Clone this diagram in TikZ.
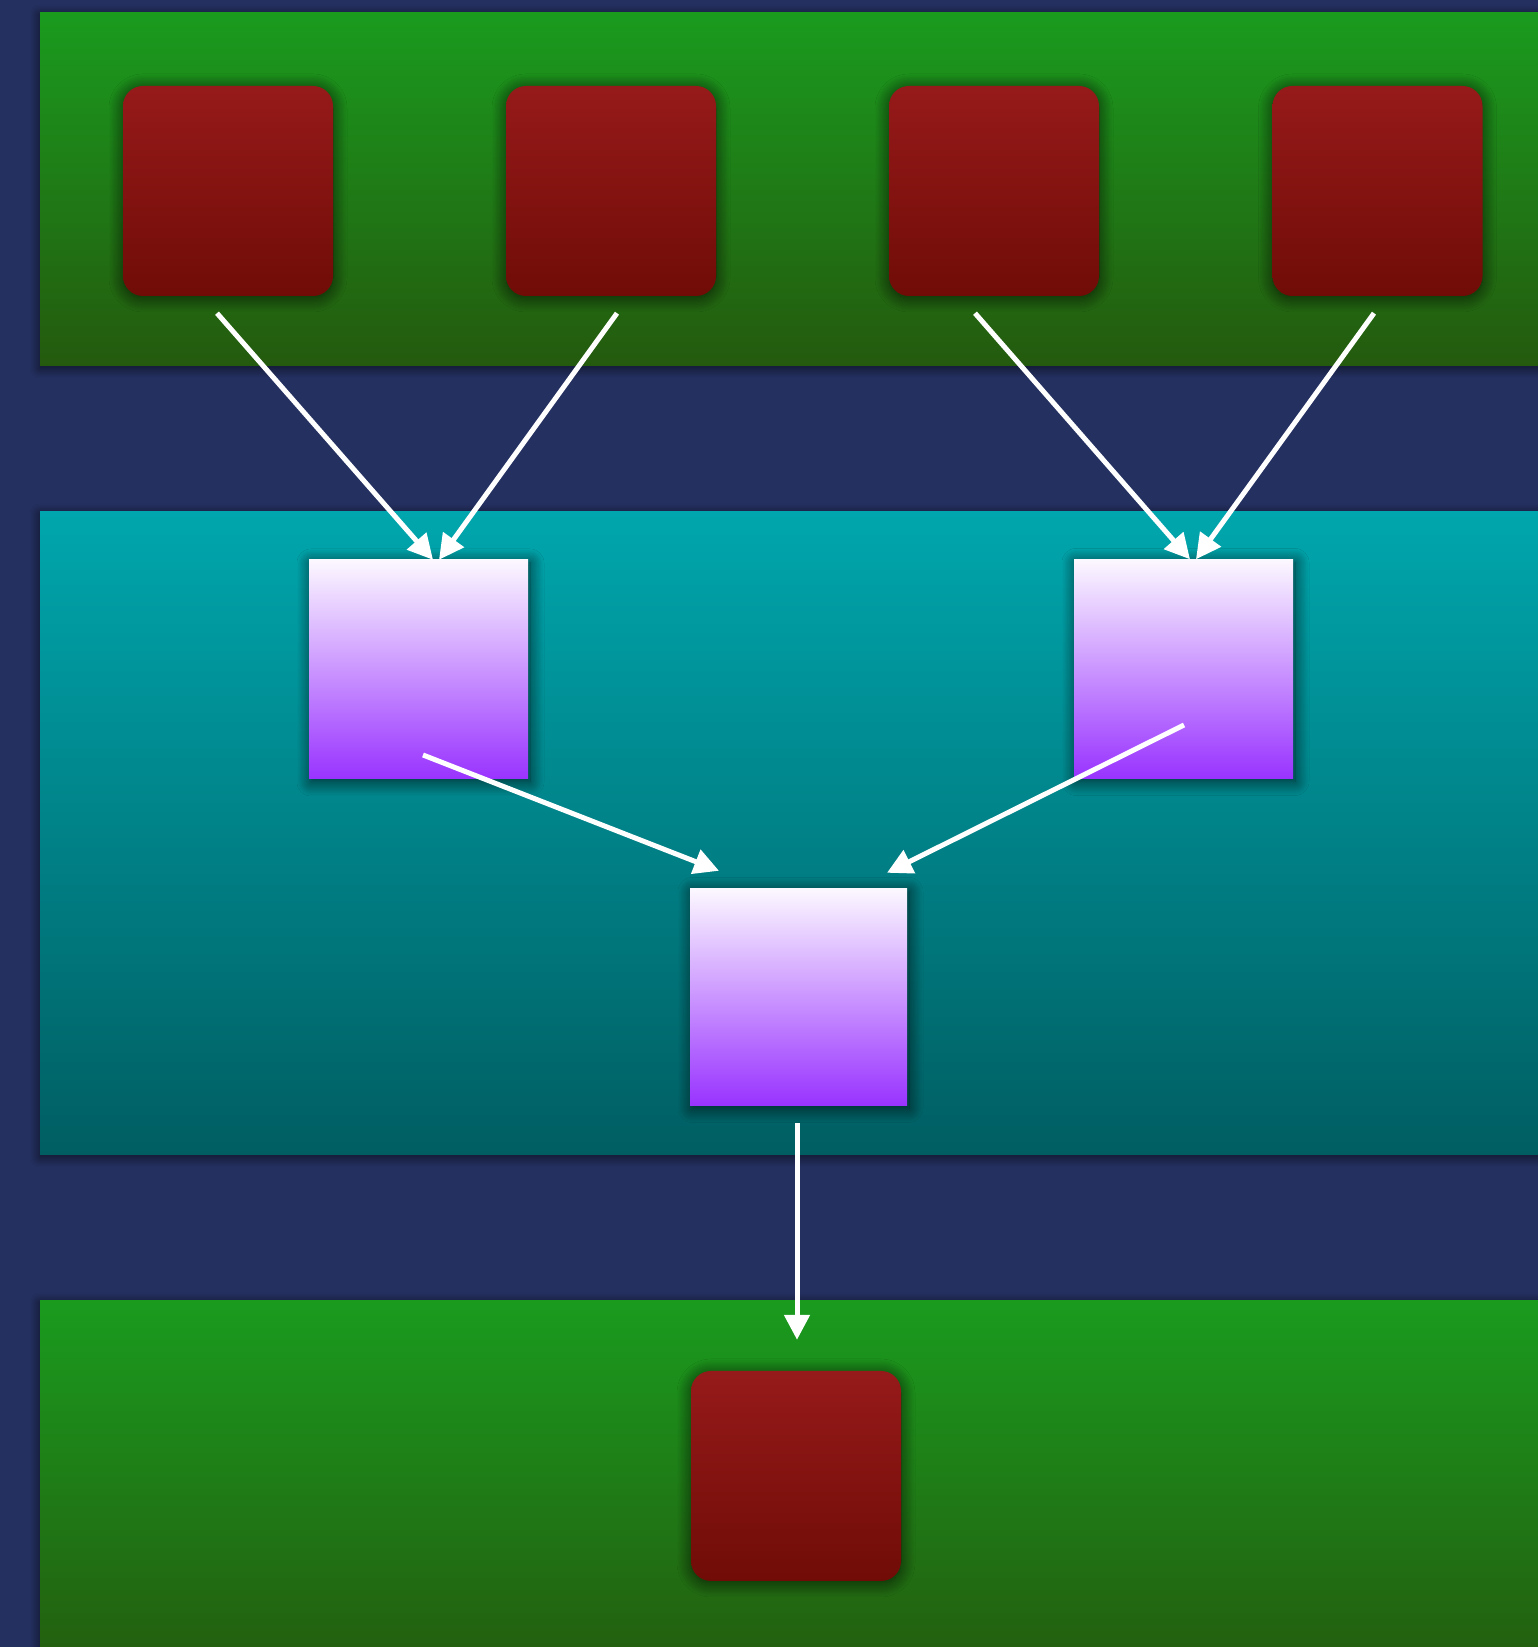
\documentclass[tikz,border=0pt]{standalone}
\usetikzlibrary{shadows.blur,arrows.meta,calc}
\definecolor{bgnavy}{RGB}{36,48,96}
\definecolor{gtop}{RGB}{26,155,30}
\definecolor{gbot}{RGB}{36,90,14}
\definecolor{ttop}{RGB}{0,166,173}
\definecolor{tbot}{RGB}{0,94,98}
\definecolor{rtop}{RGB}{150,26,26}
\definecolor{rbot}{RGB}{112,12,6}
\definecolor{ptop}{RGB}{252,248,255}
\definecolor{pbot}{RGB}{153,51,255}
\tikzset{
  bandshadow/.style={blur shadow={shadow xshift=0pt,shadow yshift=-2pt,shadow blur radius=10pt,shadow blur steps=20,shadow opacity=65}},
  greenband/.style={top color=gtop,bottom color=gbot,bandshadow},
  tealband/.style={top color=ttop,bottom color=tbot,bandshadow},
  redbox/.style={rectangle,rounded corners=20pt,minimum width=210pt,minimum height=210pt,inner sep=0pt,
    top color=rtop,bottom color=rbot,
    blur shadow={shadow xshift=0pt,shadow yshift=-2pt,shadow blur radius=14pt,shadow blur steps=25,shadow opacity=70}},
  purplebox/.style={rectangle,minimum width=219pt,minimum height=219pt,inner sep=0pt,
    top color=ptop,bottom color=pbot,
    blur shadow={shadow xshift=2pt,shadow yshift=-3pt,shadow blur radius=14pt,shadow blur steps=25,shadow opacity=70}},
  arr/.style={draw=white,line width=5pt,-{Triangle[length=25pt,width=25pt]}},
}
\begin{document}
\begin{tikzpicture}[x=1pt,y=1pt]
\useasboundingbox (0,0) rectangle (1538,1647);
\clip (0,0) rectangle (1538,1647);
\fill[bgnavy] (0,0) rectangle (1538,1647);
% bands
\path[greenband] (40,1281) rectangle (1580,1634);
\path[tealband] (40,492) rectangle (1580,1135);
\path[greenband] (40,-40) rectangle (1580,346);
% top red boxes
\node[redbox] (r1) at (228,1456) {};
\node[redbox] (r2) at (611,1456) {};
\node[redbox] (r3) at (994,1456) {};
\node[redbox] (r4) at (1377.5,1456) {};
% purple boxes
\node[purplebox] (p1) at (418.5,977.5) {};
\node[purplebox] (p2) at (1183.5,978) {};
\node[purplebox,minimum width=217pt,minimum height=217pt] (p3) at (798.5,650) {};
% bottom red box
\node[redbox] (rb) at (796,171) {};
% connectors
\draw[arr] ($(r1.south)+(-11,-17)$) -- ($(p1.north)+(14.5,0)$);
\draw[arr] ($(r2.south)+(6,-17)$) -- ($(p1.north)+(20.5,0)$);
\draw[arr] ($(r3.south)+(-19,-17)$) -- ($(p2.north)+(6.5,0)$);
\draw[arr] ($(r4.south)+(-3.5,-17)$) -- ($(p2.north)+(12.5,0)$);
\draw[arr] ($(p1.center)+(4.5,-85.5)$) -- ($(p3.north)+(-79.5,17.5)$);
\draw[arr] ($(p2.center)+(0.5,-56)$) -- ($(p3.north)+(88.5,15.5)$);
\draw[arr] ($(p3.south)+(-1.5,-17.5)$) -- ($(rb.north)+(1,31)$);
\end{tikzpicture}
\end{document}
